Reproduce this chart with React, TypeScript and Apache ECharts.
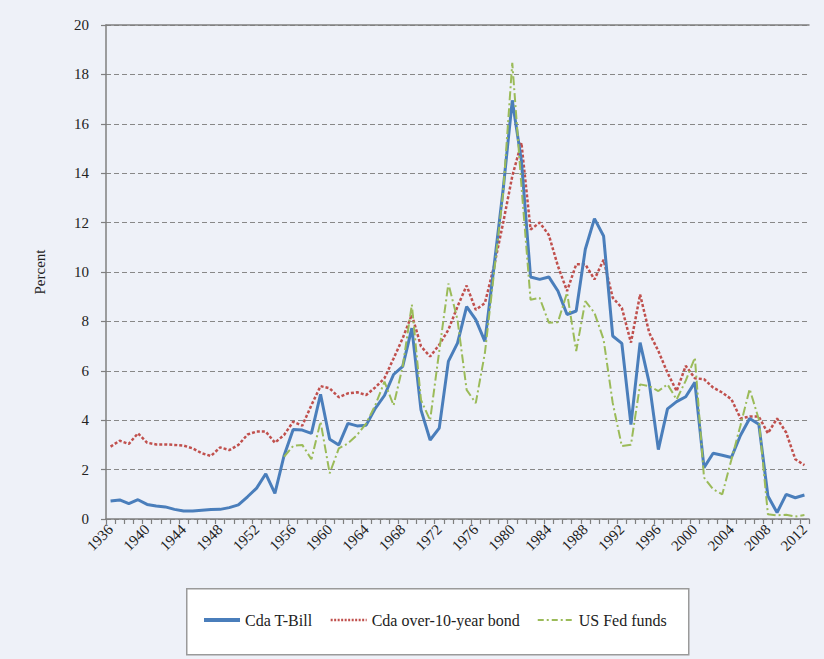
import React, { useEffect, useRef } from "react";
import * as echarts from "echarts";

const years: string[] = [];
for (let y = 1936; y <= 2012; y++) years.push(String(y));

const tbill = [
  0.73, 0.77, 0.62, 0.78, 0.59, 0.53, 0.49, 0.39, 0.32, 0.32,
  0.35, 0.38, 0.39, 0.46, 0.57, 0.9, 1.25, 1.83, 1.04, 2.56,
  3.62, 3.6, 3.47, 5.05, 3.23, 3.0, 3.87, 3.77, 3.8, 4.48,
  5.0, 5.85, 6.18, 7.73, 4.42, 3.2, 3.68, 6.38, 7.12, 8.6,
  8.07, 7.19, 10.23, 13.34, 16.95, 14.5, 9.8, 9.7, 9.8, 9.23,
  8.28, 8.42, 10.92, 12.16, 11.46, 7.41, 7.11, 3.82, 7.14, 5.51,
  2.81, 4.46, 4.75, 4.95, 5.53, 2.08, 2.66, 2.58, 2.49, 3.39,
  4.07, 3.84, 0.93, 0.26, 1.0, 0.86, 0.97,
];

const bond = [
  2.93, 3.17, 3.04, 3.47, 3.09, 3.02, 3.02, 3.0, 2.97, 2.86,
  2.66, 2.55, 2.9, 2.79, 3.0, 3.42, 3.54, 3.54, 3.09, 3.4,
  3.94, 3.78, 4.61, 5.38, 5.29, 4.93, 5.09, 5.13, 5.02, 5.33,
  5.7, 6.5, 7.32, 8.27, 6.99, 6.58, 7.05, 7.66, 8.6, 9.45,
  8.47, 8.74, 10.23, 11.99, 13.88, 15.23, 11.72, 12.0, 11.5, 10.24,
  9.23, 10.31, 10.31, 9.7, 10.49, 8.96, 8.55, 7.14, 9.09, 7.54,
  6.8, 5.92, 5.18, 6.2, 5.7, 5.66, 5.32, 5.12, 4.85, 4.07,
  4.15, 4.15, 3.47, 4.07, 3.5, 2.42, 2.18,
];

const fedFunds: (number | null)[] = [
  null, null, null, null, null, null, null, null, null, null,
  null, null, null, null, null, null, null, null, null, 2.52,
  2.96, 3.0, 2.42, 3.94, 1.85, 2.86, 3.06, 3.4, 3.87, 4.61,
  5.56, 4.6, 6.18, 8.68, 4.82, 4.0, 6.8, 9.53, 8.07, 5.23,
  4.69, 6.72, 9.96, 13.2, 18.47, 13.5, 8.88, 8.95, 7.95, 7.97,
  9.16, 6.8, 8.82, 8.35, 7.27, 4.7, 2.95, 3.01, 5.45, 5.38,
  5.18, 5.45, 4.84, 5.6, 6.53, 1.68, 1.2, 1.0, 2.4, 3.8,
  5.26, 4.04, 0.19, 0.15, 0.17, 0.1, 0.16,
];

const seriesNames = ["Cda T-Bill", "Cda over-10-year bond", "US Fed funds"];
const seriesColors = ["#4a7ebb", "#c0504d", "#9bbb59"];

const FONT = "Liberation Serif";
const CLEAR = "rgba(0,0,0,0)";

export default function App() {
  const ref = useRef<HTMLDivElement>(null);
  useEffect(() => {
    if (!ref.current) return;
    const chart = echarts.init(ref.current, undefined, { renderer: "svg" });
    const lineStyles = [
      { color: seriesColors[0], width: 3 },
      { color: seriesColors[1], width: 2.5, type: [3, 2] },
      { color: seriesColors[2], width: 2, type: [9, 3, 2, 3] },
    ];
    const legendLineStyles = [
      { color: seriesColors[0], width: 4, type: "solid" },
      { color: seriesColors[1], width: 2.5, type: [2, 1.5] },
      { color: seriesColors[2], width: 2, type: [6, 3, 2, 3] },
    ];
    chart.setOption({
      animation: false,
      backgroundColor: "#eef1f8",
      textStyle: { fontFamily: FONT },
      grid: { left: 106, right: 15, top: 25, bottom: 140 },
      graphic: [
        {
          type: "rect",
          left: 186,
          top: 588,
          shape: { width: 502, height: 66 },
          style: { fill: "#ffffff", stroke: "#9a9a9a", lineWidth: 1.5 },
          z: -1,
        },
      ],
      legend: {
        left: 202,
        top: 612,
        itemWidth: 36,
        itemHeight: 14,
        itemGap: 17,
        padding: 0,
        textStyle: { fontFamily: FONT, fontSize: 16, color: "#222" },
        data: seriesNames.map((name, i) => ({
          name,
          itemStyle: { color: CLEAR, borderColor: CLEAR, borderWidth: 0 },
          lineStyle: legendLineStyles[i],
        })),
      },
      xAxis: [
        {
          type: "category",
          data: years,
          boundaryGap: true,
          axisLine: { lineStyle: { color: "#7f7f7f", width: 1.5 } },
          axisTick: { show: true, interval: 0, length: 5, lineStyle: { color: "#7f7f7f", width: 1.2 } },
          axisLabel: {
            interval: 3,
            rotate: 45,
            fontSize: 15,
            fontFamily: FONT,
            color: "#222",
            margin: 8,
          },
          splitLine: { show: false },
        },
        {
          type: "category",
          data: years,
          position: "top",
          axisLine: { show: true, lineStyle: { color: "#7f7f7f", width: 1.5 } },
          axisTick: { show: false },
          axisLabel: { show: false },
        },
      ],
      yAxis: {
        type: "value",
        min: 0,
        max: 20,
        interval: 2,
        name: "Percent",
        nameLocation: "middle",
        nameGap: 59,
        nameRotate: 90,
        nameTextStyle: { fontFamily: FONT, fontSize: 15, color: "#222" },
        axisLine: { show: true, lineStyle: { color: "#7f7f7f", width: 1.5 } },
        axisTick: { show: true, length: 5, lineStyle: { color: "#7f7f7f", width: 1.2 } },
        axisLabel: { fontSize: 15, fontFamily: FONT, color: "#222", margin: 17 },
        splitLine: { lineStyle: { color: "#888", type: [5, 3], width: 1.2 } },
      },
      series: [
        {
          name: seriesNames[0],
          type: "line",
          data: tbill,
          symbol: "none",
          lineStyle: lineStyles[0],
          itemStyle: { color: seriesColors[0] },
          z: 3,
        },
        {
          name: seriesNames[1],
          type: "line",
          data: bond,
          symbol: "none",
          lineStyle: lineStyles[1],
          itemStyle: { color: seriesColors[1] },
          z: 2,
        },
        {
          name: seriesNames[2],
          type: "line",
          data: fedFunds,
          symbol: "none",
          lineStyle: lineStyles[2],
          itemStyle: { color: seriesColors[2] },
          z: 4,
        },
      ],
    });
    return () => chart.dispose();
  }, []);
  return (
    <div
      ref={ref}
      style={{ position: "fixed", left: 0, top: 0, width: 824, height: 659 }}
    />
  );
}
